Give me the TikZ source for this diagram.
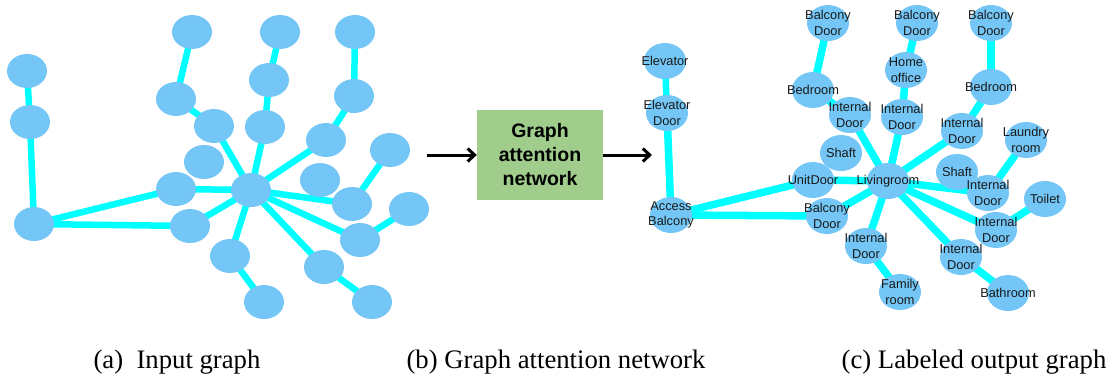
\documentclass[tikz,border=0pt]{standalone}
\usepackage{fontspec}
\setmainfont{Liberation Serif}
\setsansfont{Liberation Sans}
\usetikzlibrary{shapes.geometric,arrows.meta,backgrounds}
\definecolor{nodeblue}{RGB}{115,198,245}
\definecolor{linkcyan}{RGB}{0,255,255}
\definecolor{boxgreen}{RGB}{160,204,140}

\begin{document}
\begin{tikzpicture}[x=1pt,y=-1pt,
  blob/.style={ellipse,fill=nodeblue,minimum width=40pt,minimum height=34pt,inner sep=0pt},
  room/.style={blob,minimum width=42pt,minimum height=36pt,label={[roomtext]center:#1}},
  roomtext/.style={font=\sffamily\fontsize{12.8}{15.8}\selectfont,align=center,text=black!90,inner sep=0pt},
  link/.style={linkcyan,line width=6.5pt},
  wide link/.style={linkcyan,line width=7.5pt},
  gat/.style={fill=boxgreen,minimum width=126pt,minimum height=90pt,inner sep=0pt,align=center,
    font=\sffamily\bfseries\fontsize{19.5}{24}\selectfont},
  flow/.style={-{Straight Barb[length=7pt,width=13pt]},line width=3pt},
  caption/.style={font=\fontsize{26.7}{30}\selectfont,anchor=base}]

\useasboundingbox (0,0) rectangle (1119,376);

% (a) input graph
\node[blob] (iElev) at (27,71) {};
\node[blob] (iElevDoor) at (30,122) {};
\node[blob] (iAccess) at (34,224) {};
\node[blob] (iUnit) at (176,189) {};
\node[blob] (iBalc) at (190,226) {};
\node[blob] (iLiving) at (251,190) {};
\node[blob] (iIntA) at (214,126) {};
\node[blob] (iBedA) at (176,99) {};
\node[blob] (iBalcA) at (192,32) {};
\node[blob] (iIntB) at (265,127) {};
\node[blob] (iOffice) at (269,80) {};
\node[blob] (iBalcB) at (280,32) {};
\node[blob] (iIntC) at (326,140) {};
\node[blob] (iBedC) at (354,96) {};
\node[blob] (iBalcC) at (355,32) {};
\node[blob] (iShaftA) at (204,162) {};
\node[blob] (iShaftB) at (320,180) {};
\node[blob] (iIntD) at (352,204) {};
\node[blob] (iLaundry) at (390,150) {};
\node[blob] (iIntE) at (360,240) {};
\node[blob] (iToilet) at (409,209) {};
\node[blob] (iIntF) at (324,267) {};
\node[blob] (iBath) at (372,302) {};
\node[blob] (iIntG) at (230,256) {};
\node[blob] (iFamily) at (264,302) {};

% (b) network box
\node[gat] (gat) at (540,155) {Graph\\attention\\network};
\coordinate (inTail) at (427,155);
\coordinate (outHead) at (652,155);
\draw[flow] (inTail) -- (gat);
\draw[flow] (gat) -- (outHead);

% (c) labeled output graph
\node[room=Elevator] (oElev) at (665,61) {};
\node[room={Elevator\\Door}] (oElevDoor) at (667,113) {};
\node[room={Access\\Balcony}] (oAccess) at (671,215) {};
\node[room={UnitDoor}] (oUnit) at (813,180) {};
\node[room={Balcony\\Door}] (oBalc) at (827,216) {};
\node[room={Livingroom}] (oLiving) at (888,181) {};
\node[room={Internal\\Door}] (oIntA) at (850,115) {};
\node[room={Bedroom}] (oBedA) at (813,90) {};
\node[room={Balcony\\Door}] (oBalcA) at (828,23) {};
\node[room={Internal\\Door}] (oIntB) at (902,117) {};
\node[room={Home\\office}] (oOffice) at (906,70) {};
\node[room={Balcony\\Door}] (oBalcB) at (917,23) {};
\node[room={Internal\\Door}] (oIntC) at (962,131) {};
\node[room={Bedroom}] (oBedC) at (991,87) {};
\node[room={Balcony\\Door}] (oBalcC) at (991,23) {};
\node[room={Shaft}] (oShaftA) at (841,153) {};
\node[room={Shaft}] (oShaftB) at (957,172) {};
\node[room={Internal\\Door}] (oIntD) at (988,193) {};
\node[room={Laundry\\room}] (oLaundry) at (1026,140) {};
\node[room={Internal\\Door}] (oIntE) at (996,230) {};
\node[room={Toilet}] (oToilet) at (1045,199) {};
\node[room={Internal\\Door}] (oIntF) at (961,257) {};
\node[room={Bathroom}] (oBath) at (1008,293) {};
\node[room={Internal\\Door}] (oIntG) at (866,246) {};
\node[room={Family\\room}] (oFamily) at (900,292) {};

\begin{pgfonlayer}{background}
\draw[link] (iElev.center) -- (iElevDoor.center);
\draw[link] (iElevDoor.center) -- (iAccess.center);
\draw[link] (iAccess.center) -- (iUnit.center);
\draw[link] (iAccess.center) -- (iBalc.center);
\draw[link] (iUnit.center) -- (iLiving.center);
\draw[link] (iBalc.center) -- (iLiving.center);
\draw[link] (iLiving.center) -- (iIntA.center);
\draw[link] (iIntA.center) -- (iBedA.center);
\draw[link] (iBedA.center) -- (iBalcA.center);
\draw[link] (iLiving.center) -- (iIntB.center);
\draw[link] (iIntB.center) -- (iOffice.center);
\draw[link] (iOffice.center) -- (iBalcB.center);
\draw[link] (iLiving.center) -- (iIntC.center);
\draw[link] (iIntC.center) -- (iBedC.center);
\draw[link] (iBedC.center) -- (iBalcC.center);
\draw[link] (iLiving.center) -- (iIntD.center);
\draw[link] (iIntD.center) -- (iLaundry.center);
\draw[link] (iLiving.center) -- (iIntE.center);
\draw[link] (iIntE.center) -- (iToilet.center);
\draw[link] (iLiving.center) -- (iIntF.center);
\draw[link] (iIntF.center) -- (iBath.center);
\draw[link] (iLiving.center) -- (iIntG.center);
\draw[link] (iIntG.center) -- (iFamily.center);

\draw[link] (oElev.center) -- (oElevDoor.center);
\draw[wide link] (oElevDoor.center) -- (oAccess.center);
\draw[wide link] (oAccess.center) -- (oUnit.center);
\draw[wide link] (oAccess.center) -- (oBalc.center);
\draw[wide link] (oUnit.center) -- (oLiving.center);
\draw[wide link] (oBalc.center) -- (oLiving.center);
\draw[wide link] (oLiving.center) -- (oIntA.center);
\draw[wide link] (oIntA.center) -- (oBedA.center);
\draw[wide link] (oBedA.center) -- (oBalcA.center);
\draw[wide link] (oLiving.center) -- (oIntB.center);
\draw[wide link] (oIntB.center) -- (oOffice.center);
\draw[wide link] (oOffice.center) -- (oBalcB.center);
\draw[wide link] (oLiving.center) -- (oIntC.center);
\draw[wide link] (oIntC.center) -- (oBedC.center);
\draw[wide link] (oBedC.center) -- (oBalcC.center);
\draw[wide link] (oLiving.center) -- (oIntD.center);
\draw[wide link] (oIntD.center) -- (oLaundry.center);
\draw[wide link] (oLiving.center) -- (oIntE.center);
\draw[wide link] (oIntE.center) -- (oToilet.center);
\draw[wide link] (oLiving.center) -- (oIntF.center);
\draw[wide link] (oIntF.center) -- (oBath.center);
\draw[wide link] (oLiving.center) -- (oIntG.center);
\draw[wide link] (oIntG.center) -- (oFamily.center);
\end{pgfonlayer}

% captions
\node[caption] (capA) at (177,368) {(a)\ \ Input graph};
\node[caption] (capB) at (556,368) {(b) Graph attention network};
\node[caption] (capC) at (974,368) {(c) Labeled output graph};
\end{tikzpicture}
\end{document}
